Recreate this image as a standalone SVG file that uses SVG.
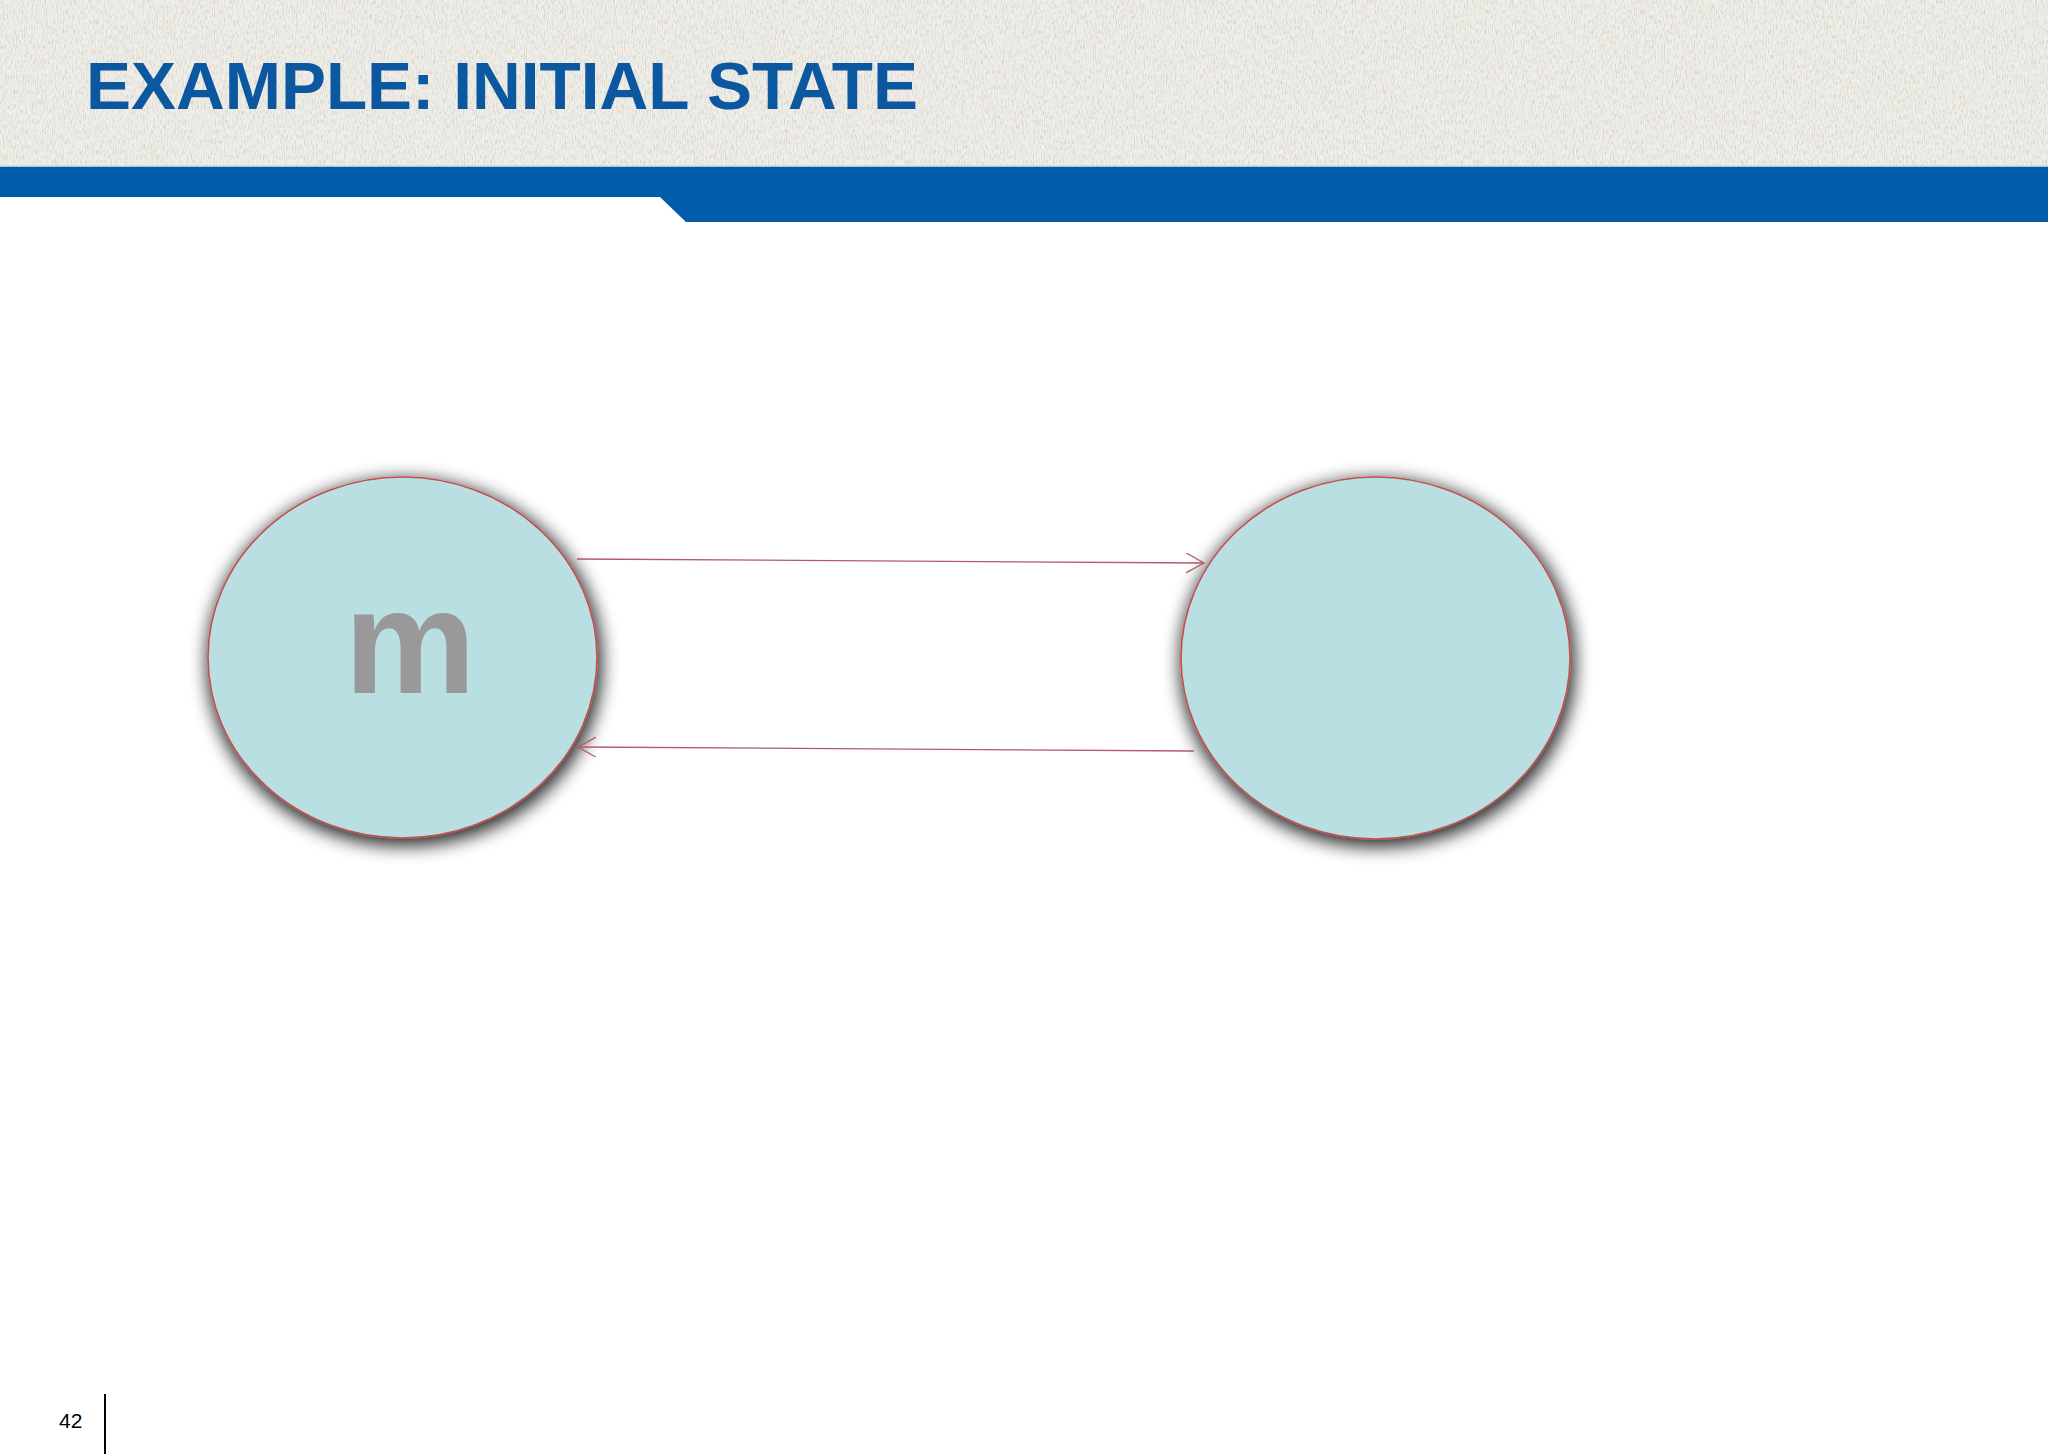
<svg xmlns="http://www.w3.org/2000/svg" width="2048" height="1454" viewBox="0 0 2048 1454">
<style>
.title{font-family:"Liberation Sans",Arial,sans-serif;font-weight:bold;font-size:67px;fill:#0b57a0}
.node{fill:#b9dfe2;stroke:#c0504d;stroke-width:1.6;filter:url(#shadow)}
.label{font-family:"Liberation Sans",Arial,sans-serif;font-weight:bold;font-size:148px;fill:#999999}
.edge{fill:none;stroke:#b45a68;stroke-width:1.3;marker-end:url(#arrow)}
.pg{font-family:"Liberation Sans",Arial,sans-serif;font-size:21px;fill:#000}
</style>
<defs>
<filter id="shadow" x="-20%" y="-20%" width="140%" height="140%">
<feMorphology in="SourceAlpha" operator="dilate" radius="2" result="d"/>
<feGaussianBlur in="d" stdDeviation="9"/>
<feOffset dx="2" dy="5" result="b"/>
<feComponentTransfer><feFuncA type="linear" slope="0.85"/></feComponentTransfer>
<feMerge><feMergeNode/><feMergeNode in="SourceGraphic"/></feMerge>
</filter>
<filter id="texture" x="0" y="0" width="100%" height="100%">
<feTurbulence type="fractalNoise" baseFrequency="0.9 0.2" numOctaves="3" seed="4" result="n"/>
<feColorMatrix in="n" type="matrix" values="0 0 0 0 0.55  0 0 0 0 0.53  0 0 0 0 0.47  0 0 0 1.6 -0.7"/>
<feComposite in2="SourceGraphic" operator="in" result="t"/>
<feMerge><feMergeNode in="SourceGraphic"/><feMergeNode in="t"/></feMerge>
</filter>
<marker id="arrow" markerWidth="20" markerHeight="22" refX="18" refY="10" orient="auto" markerUnits="userSpaceOnUse">
<path d="M0,0 L18,10 L0,20" fill="none" stroke="#b45a68" stroke-width="1.3"/>
</marker>
</defs>
<rect width="2048" height="1454" fill="#ffffff"/>
<g id="header">
<rect x="0" y="0" width="2048" height="167" fill="#efeee8" filter="url(#texture)"/>
<line x1="0" y1="166.5" x2="2048" y2="166.5" stroke="#9cc8ea" stroke-width="1.5"/>
<path d="M0,167 H2048 V222 H686 L660,197 H0 Z" fill="#005ca8"/>
<text class="title" x="86" y="109" textLength="832" lengthAdjust="spacingAndGlyphs">EXAMPLE: INITIAL STATE</text>
</g>
<g id="node-m">
<ellipse class="node" cx="402.5" cy="657.5" rx="194.5" ry="180.5"/>
<text class="label" x="410" y="693" text-anchor="middle">m</text>
</g>
<g id="node-right">
<ellipse class="node" cx="1375.5" cy="658" rx="194.5" ry="181"/>
</g>
<g id="connectors">
<path class="edge" d="M577,559 L1204,563"/>
<path class="edge" d="M1194,751 L578,747"/>
</g>
<g id="footer">
<text class="pg" x="59" y="1428">42</text>
<line x1="105" y1="1394" x2="105" y2="1454" stroke="#000" stroke-width="2"/>
</g>
</svg>
